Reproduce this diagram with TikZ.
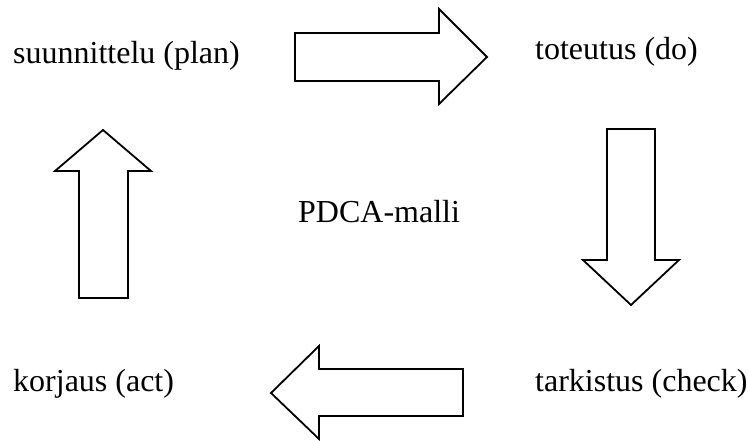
\documentclass[tikz,border=0pt]{standalone}
\usepackage{fontspec}
\setmainfont{Liberation Serif}
\begin{document}
\begin{tikzpicture}[x=1pt,y=1pt,
  lbl/.style={anchor=base west,inner sep=0pt,font=\fontsize{32}{38}\selectfont},
  blockarrow/.style={draw=black,line width=1.8pt,line join=miter,fill=white}]
\useasboundingbox (0,0) rectangle (748,441);
\node[lbl] (plan) at (13,377) {suunnittelu (plan)};
\node[lbl] (do) at (535,381) {toteutus (do)};
\node[lbl] (mid) at (298,218) {PDCA-malli};
\node[lbl] (act) at (13,49) {korjaus (act)};
\node[lbl] (check) at (535,49) {tarkistus (check)};
% plan -> do
\draw[blockarrow] (295,408) -- (439,408) -- (439,432) -- (487,384) -- (439,337) -- (439,360) -- (295,360) -- cycle;
% do -> check
\draw[blockarrow] (607,312) -- (655,312) -- (655,181) -- (679,181) -- (631,136) -- (583,181) -- (607,181) -- cycle;
% check -> act
\draw[blockarrow] (463,72) -- (463,25) -- (319,25) -- (319,2) -- (271,48) -- (319,95) -- (319,72) -- cycle;
% act -> plan
\draw[blockarrow] (79,143) -- (128,143) -- (128,270) -- (151,270) -- (103,311) -- (55,270) -- (79,270) -- cycle;
\end{tikzpicture}
\end{document}
